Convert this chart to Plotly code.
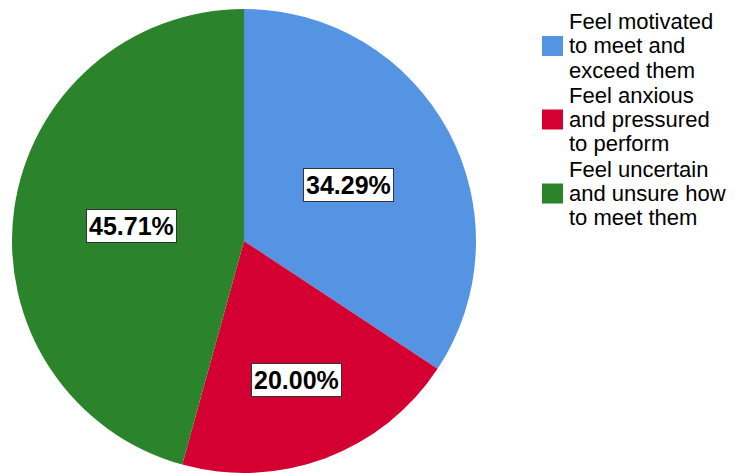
import math
import plotly.graph_objects as go

# Responses and their shares (percent of respondents)
categories = [
    "Feel motivated to meet and exceed them",
    "Feel anxious and pressured to perform",
    "Feel uncertain and unsure how to meet them",
]
legend_lines = [
    ["Feel motivated", "to meet and", "exceed them"],
    ["Feel anxious", "and pressured", "to perform"],
    ["Feel uncertain", "and unsure how", "to meet them"],
]
shares = [34.29, 20.00, 45.71]

# Styling
colors = ["#5594E3", "#D50032", "#2B842B"]
label_radius = [0.51, 0.64, 0.49]  # fraction of the pie radius for each value box
FONT = "Liberation Sans, Arial, sans-serif"

W, H = 735, 473
cx, cy, r = 244, 241, 232  # pie centre / radius in pixels

fig = go.Figure(
    go.Pie(
        labels=categories,
        values=shares,
        sort=False,
        direction="clockwise",
        rotation=0,
        marker=dict(colors=colors, line=dict(width=0)),
        textinfo="none",
        hoverinfo="label+percent",
        showlegend=False,
        domain=dict(
            x=[(cx - r) / W, (cx + r) / W],
            y=[max(0, (H - cy - r) / H), (H - cy + r) / H],
        ),
    )
)

annotations = []
total = sum(shares)
cum = 0.0
for v, frac in zip(shares, label_radius):
    theta = math.radians((cum + v / 2) / total * 360)
    cum += v
    px = cx + frac * r * math.sin(theta)
    py = cy - frac * r * math.cos(theta)
    annotations.append(
        dict(
            x=px / W, y=1 - py / H, xref="paper", yref="paper",
            text=f"{v / total * 100:.2f}%",
            showarrow=False,
            font=dict(family=FONT, size=25, color="black", weight="bold"),
            bgcolor="white", bordercolor="#333333", borderwidth=1, borderpad=2,
            xanchor="center", yanchor="middle",
        )
    )

# Hand-built legend: colour swatch plus three tightly spaced text lines
shapes = []
sw_x0, sw_x1 = 542, 563
text_x = 567
entry_centres = [46, 119.5, 193.5]
line_step = 24
for col, lines, yc in zip(colors, legend_lines, entry_centres):
    shapes.append(
        dict(
            type="rect", xref="paper", yref="paper",
            x0=sw_x0 / W, x1=sw_x1 / W,
            y0=1 - (yc + 10) / H, y1=1 - (yc - 10) / H,
            fillcolor=col, line=dict(width=0),
        )
    )
    for k, line in enumerate(lines):
        ly = yc + (k - 1) * line_step
        annotations.append(
            dict(
                x=text_x / W, y=1 - ly / H, xref="paper", yref="paper",
                text=line, showarrow=False,
                font=dict(family=FONT, size=22, color="black"),
                xanchor="left", yanchor="middle",
            )
        )

fig.update_layout(
    width=W, height=H,
    margin=dict(l=0, r=0, t=0, b=0),
    paper_bgcolor="white", plot_bgcolor="white",
    annotations=annotations, shapes=shapes,
)

fig.write_html("out.html")
